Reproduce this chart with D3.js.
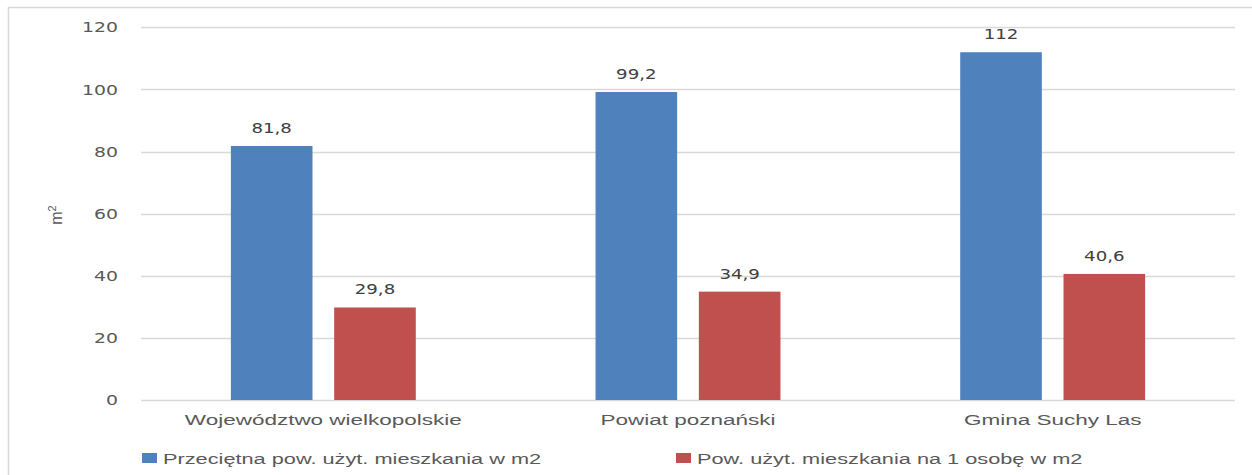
<!DOCTYPE html>
<html>
<head>
<meta charset="utf-8">
<script src="https://cdn.jsdelivr.net/npm/d3@7"></script>
<style>
  body { margin: 0; background: #fff; }
  svg { display: block; }
</style>
</head>
<body>
<svg></svg>
<script>
// data
const categories = ["Województwo wielkopolskie", "Powiat poznański", "Gmina Suchy Las"];
const seriesNames = ["Przeciętna pow. użyt. mieszkania w m2", "Pow. użyt. mieszkania na 1 osobę w m2"];
const avgFlat    = [81.8, 99.2, 112];
const perPerson  = [29.8, 34.9, 40.6];
const yTicks     = [0, 20, 40, 60, 80, 100, 120];

// setup
const width  = 1252;
const height = 475;
const colors = { 'blue': '#4F81BD', 'red': '#C0504D', 'grid': '#d9d9d9', 'text': '#595959', 'label': '#404040' };
// the original picture is squeezed wide, so text gets stretched too
const stretchNum = 1.3;
const stretchCat = 1.5;
const stretchLeg = 1.45;

const svg = d3.select("svg").attr("width", width).attr("height", height);

// frame
svg.append("rect")
   .attr("x", 8.5).attr("y", 7.5)
   .attr("width", 1262).attr("height", 480)
   .attr("fill", "none").attr("stroke", colors.grid).attr("stroke-width", 1.5);

const x = d3.scaleBand().domain(categories).range([141, 1235]);
const xs = d3.scaleBand().domain([0, 1]).range([0, x.bandwidth()]).paddingInner(0.21).paddingOuter(0.87);
const y = d3.scaleLinear().domain([0, 120]).range([400, 27.4]);

function wideText(sel, tx, ty, k){
  return sel.attr("transform", `translate(${tx},${ty}) scale(${k},1)`);
}

// grid
svg.append("g").selectAll("line")
   .data(yTicks)
   .join("line")
     .attr("x1", 141).attr("x2", 1235)
     .attr("y1", d => Math.round(y(d)) + 0.5).attr("y2", d => Math.round(y(d)) + 0.5)
     .attr("stroke", colors.grid).attr("stroke-width", 1.5);

// y tick labels
svg.append("g").selectAll("text")
   .data(yTicks)
   .join("text")
     .each(function(d){ wideText(d3.select(this), 118, y(d) + 5, stretchNum); })
     .attr("text-anchor", "end")
     .attr("font-family", "DejaVu Sans")
     .attr("font-size", 14.5)
     .attr("fill", colors.text)
     .text(d => d);

// y axis title
svg.append("text")
   .attr("transform", "translate(62,215) rotate(-90)")
   .attr("text-anchor", "middle")
   .attr("font-family", "Liberation Sans")
   .attr("font-size", 16)
   .attr("fill", colors.text)
   .html('m<tspan dy="-6" font-size="11">2</tspan>');

// bars
const series = [avgFlat, perPerson];
const seriesColors = [colors.blue, colors.red];
const fmt = v => String(v).replace(".", ",");

series.forEach((vals, si) => {
  const g = svg.append("g");
  g.selectAll("rect")
   .data(vals)
   .join("rect")
     .attr("x", (d, i) => x(categories[i]) + xs(si))
     .attr("width", xs.bandwidth())
     .attr("y", d => y(d))
     .attr("height", d => y(0) - y(d))
     .attr("fill", seriesColors[si]);

  g.selectAll("text")
   .data(vals)
   .join("text")
     .each(function(d, i){ wideText(d3.select(this), x(categories[i]) + xs(si) + xs.bandwidth() / 2, y(d) - 13, stretchNum); })
     .attr("text-anchor", "middle")
     .attr("font-family", "DejaVu Sans")
     .attr("font-size", 14)
     .attr("fill", colors.label)
     .text(d => fmt(d));
});

// category labels
svg.append("g").selectAll("text")
   .data(categories)
   .join("text")
     .each(function(d){ wideText(d3.select(this), x(d) + x.bandwidth() / 2, 425, stretchCat); })
     .attr("text-anchor", "middle")
     .attr("font-family", "Liberation Sans")
     .attr("font-size", 15)
     .attr("fill", colors.text)
     .text(d => d);

// legend
const legendX = [142, 676];
const legend = svg.append("g").selectAll("g")
   .data(seriesNames)
   .join("g")
     .attr("transform", (d, i) => `translate(${legendX[i]},453)`);
legend.append("rect")
   .attr("width", 15).attr("height", 10)
   .attr("fill", (d, i) => seriesColors[i]);
legend.append("text")
   .each(function(){ wideText(d3.select(this), 21, 10.5, stretchLeg); })
   .attr("font-family", "Liberation Sans")
   .attr("font-size", 15)
   .attr("fill", colors.text)
   .text(d => d);
</script>
</body>
</html>
